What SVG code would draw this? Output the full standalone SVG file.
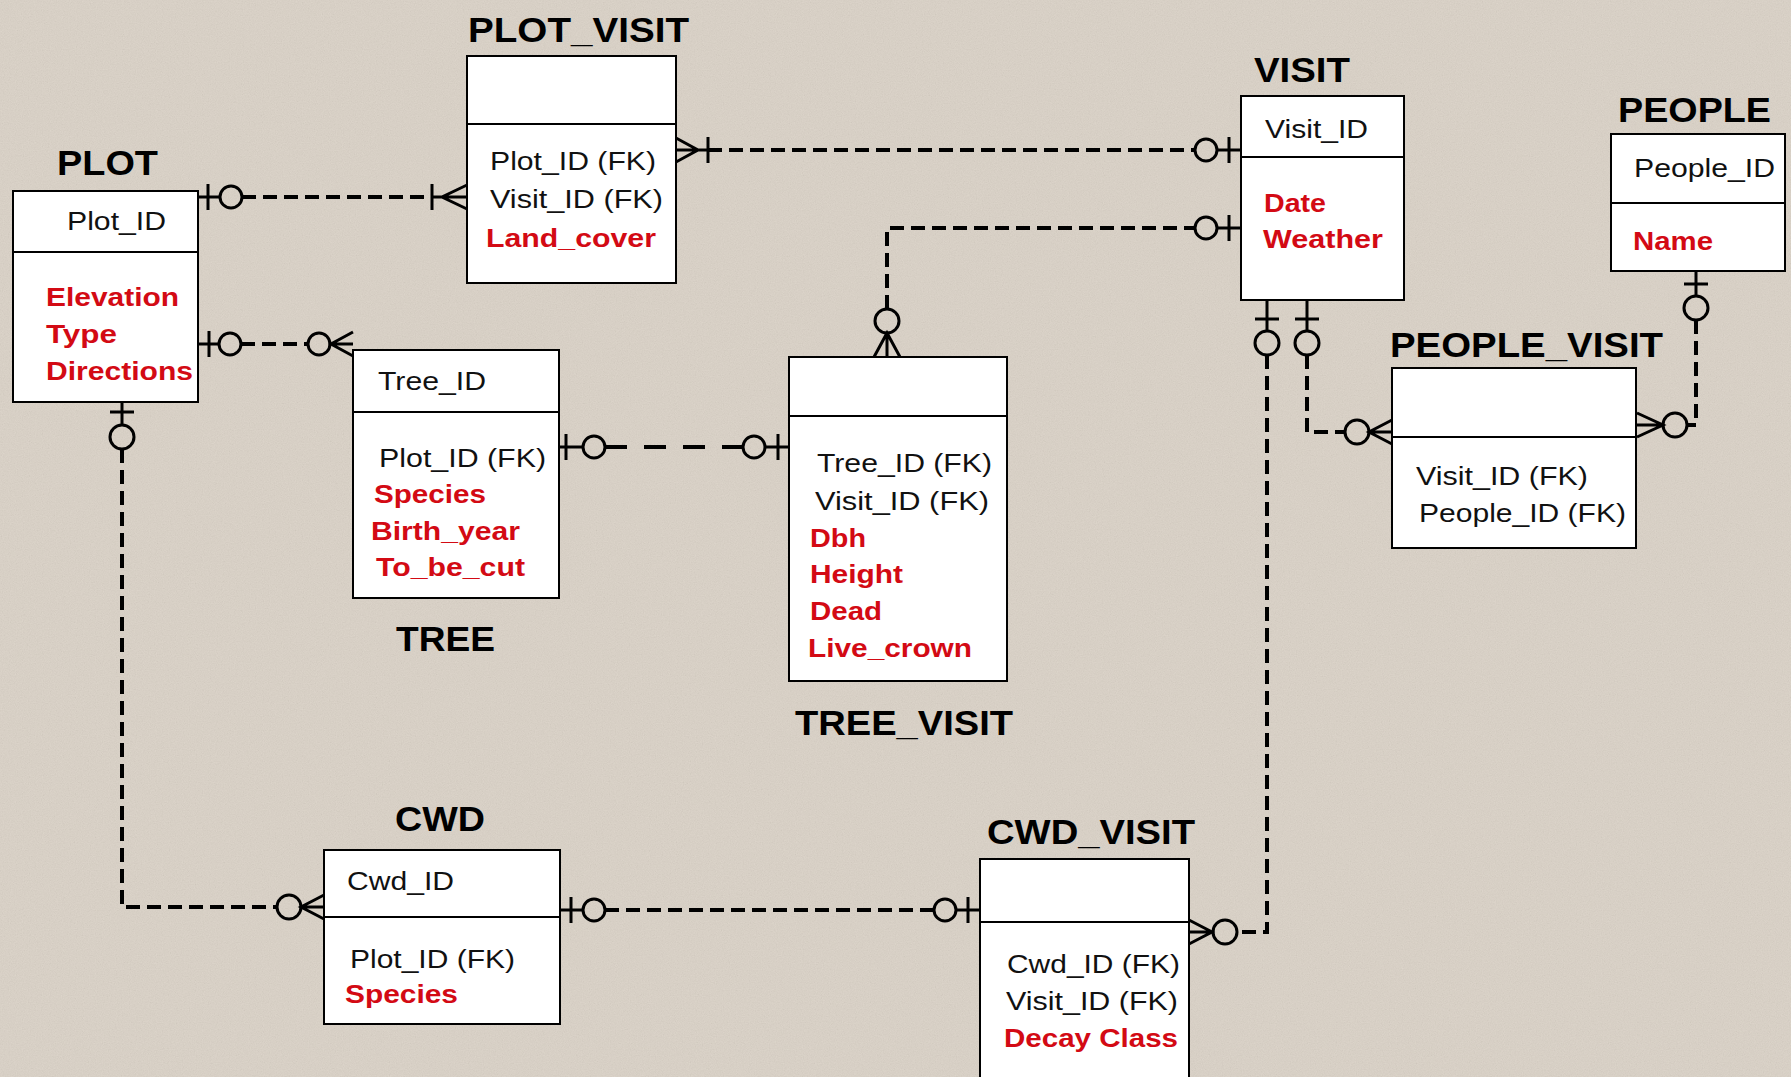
<svg xmlns="http://www.w3.org/2000/svg" width="1791" height="1077" viewBox="0 0 1791 1077">
<defs>
<style>
.box{fill:#fff;stroke:#000;stroke-width:2}
.div{stroke:#000;stroke-width:2}
.title{font-family:"Liberation Sans",Arial,sans-serif;font-weight:bold;font-size:35px;fill:#000}
.attr{font-family:"Liberation Sans",Arial,sans-serif;font-size:26px;fill:#111}
.red{font-family:"Liberation Sans",Arial,sans-serif;font-weight:bold;font-size:26px;fill:#d30a14}
.dash{fill:none;stroke:#000;stroke-width:4;stroke-dasharray:14 7}
.ldash{fill:none;stroke:#000;stroke-width:4;stroke-dasharray:22 17}
.sym{fill:none;stroke:#000;stroke-width:3}
</style>
<filter id="grain" x="0" y="0" width="100%" height="100%">
<feTurbulence type="fractalNoise" baseFrequency="0.85" numOctaves="3" seed="7" result="n"/>
<feColorMatrix in="n" type="matrix" values="0.33 0.33 0.33 0 0 0.33 0.33 0.33 0 0 0.33 0.33 0.33 0 0 0 0 0 0 0.14"/>
</filter>
</defs>
<rect x="0" y="0" width="1791" height="1077" fill="#dcd3c7"/>
<rect x="0" y="0" width="1791" height="1077" filter="url(#grain)"/>

<g id="connectors">
<!-- PLOT - PLOT_VISIT -->
<path class="sym" d="M198 197H220M208 184V210"/>
<circle class="sym" cx="231" cy="197" r="11"/>
<path class="dash" d="M242 197H432"/>
<path class="sym" d="M432 197H467M432 184V210M467 185L442 197L467 209"/>
<!-- PLOT_VISIT - VISIT -->
<path class="sym" d="M676 138L698 150L676 162M676 150H708M708 137V163"/>
<path class="dash" d="M708 150H1195"/>
<circle class="sym" cx="1206" cy="150" r="11"/>
<path class="sym" d="M1217 150H1241M1229 137V163"/>
<!-- PLOT - TREE -->
<path class="sym" d="M198 344H219M209 331V357"/>
<circle class="sym" cx="230" cy="344" r="11"/>
<path class="dash" d="M241 344H308"/>
<circle class="sym" cx="319" cy="344" r="11"/>
<path class="sym" d="M330 344H353M353 332L331 344L353 356"/>
<!-- TREE - TREE_VISIT -->
<path class="sym" d="M559 447H583M566 434V460"/>
<circle class="sym" cx="594" cy="447" r="11"/>
<path class="ldash" d="M605 447H743"/>
<circle class="sym" cx="754" cy="447" r="11"/>
<path class="sym" d="M765 447H789M778 434V460"/>
<!-- TREE_VISIT - VISIT -->
<path class="sym" d="M874 357L887 333L900 357M887 357V333"/>
<circle class="sym" cx="887" cy="321" r="12"/>
<path class="dash" d="M887 309V228H1195"/>
<circle class="sym" cx="1206" cy="228" r="11"/>
<path class="sym" d="M1217 228H1241M1229 215V241"/>
<!-- VISIT - CWD_VISIT -->
<path class="sym" d="M1267 300V331M1255 319H1279"/>
<circle class="sym" cx="1267" cy="343" r="12"/>
<path class="dash" d="M1267 355V932H1237"/>
<circle class="sym" cx="1225" cy="932" r="12"/>
<path class="sym" d="M1213 932H1189M1189 920L1212 932L1189 944"/>
<!-- VISIT - PEOPLE_VISIT -->
<path class="sym" d="M1307 300V331M1295 319H1319"/>
<circle class="sym" cx="1307" cy="343" r="12"/>
<path class="dash" d="M1307 355V432H1345"/>
<circle class="sym" cx="1357" cy="432" r="12"/>
<path class="sym" d="M1369 432H1392M1392 420L1369 432L1392 444"/>
<!-- PEOPLE - PEOPLE_VISIT -->
<path class="sym" d="M1696 271V296M1684 284H1708"/>
<circle class="sym" cx="1696" cy="308" r="12"/>
<path class="dash" d="M1696 320V425H1687"/>
<circle class="sym" cx="1675" cy="425" r="12"/>
<path class="sym" d="M1663 425H1637M1637 413L1663 425L1637 437"/>
<!-- PLOT - CWD -->
<path class="sym" d="M122 402V425M110 412H134"/>
<circle class="sym" cx="122" cy="437" r="12"/>
<path class="dash" d="M122 449V907H277"/>
<circle class="sym" cx="289" cy="907" r="12"/>
<path class="sym" d="M301 907H324M324 895L301 907L324 919"/>
<!-- CWD - CWD_VISIT -->
<path class="sym" d="M560 910H583M571 897V923"/>
<circle class="sym" cx="594" cy="910" r="11"/>
<path class="dash" d="M605 910H934"/>
<circle class="sym" cx="945" cy="910" r="11"/>
<path class="sym" d="M956 910H980M968 897V923"/>
</g>

<g id="plot">
<text class="title" x="57" y="175" textLength="101" lengthAdjust="spacingAndGlyphs">PLOT</text>
<rect class="box" x="13" y="191" width="185" height="211"/>
<line class="div" x1="13" y1="252" x2="198" y2="252"/>
<text class="attr" x="67" y="230" textLength="99" lengthAdjust="spacingAndGlyphs">Plot_ID</text>
<text class="red" x="46" y="306" textLength="133" lengthAdjust="spacingAndGlyphs">Elevation</text>
<text class="red" x="46" y="343" textLength="71" lengthAdjust="spacingAndGlyphs">Type</text>
<text class="red" x="46" y="380" textLength="147" lengthAdjust="spacingAndGlyphs">Directions</text>
</g>

<g id="plot_visit">
<text class="title" x="468" y="42" textLength="221" lengthAdjust="spacingAndGlyphs">PLOT_VISIT</text>
<rect class="box" x="467" y="56" width="209" height="227"/>
<line class="div" x1="467" y1="124" x2="676" y2="124"/>
<text class="attr" x="490" y="170" textLength="166" lengthAdjust="spacingAndGlyphs">Plot_ID (FK)</text>
<text class="attr" x="490" y="208" textLength="173" lengthAdjust="spacingAndGlyphs">Visit_ID (FK)</text>
<text class="red" x="486" y="247" textLength="170" lengthAdjust="spacingAndGlyphs">Land_cover</text>
</g>

<g id="visit">
<text class="title" x="1254" y="82" textLength="96" lengthAdjust="spacingAndGlyphs">VISIT</text>
<rect class="box" x="1241" y="96" width="163" height="204"/>
<line class="div" x1="1241" y1="157" x2="1404" y2="157"/>
<text class="attr" x="1265" y="138" textLength="103" lengthAdjust="spacingAndGlyphs">Visit_ID</text>
<text class="red" x="1264" y="212" textLength="62" lengthAdjust="spacingAndGlyphs">Date</text>
<text class="red" x="1263" y="248" textLength="120" lengthAdjust="spacingAndGlyphs">Weather</text>
</g>

<g id="people">
<text class="title" x="1618" y="122" textLength="153" lengthAdjust="spacingAndGlyphs">PEOPLE</text>
<rect class="box" x="1611" y="134" width="174" height="137"/>
<line class="div" x1="1611" y1="203" x2="1785" y2="203"/>
<text class="attr" x="1634" y="177" textLength="141" lengthAdjust="spacingAndGlyphs">People_ID</text>
<text class="red" x="1633" y="250" textLength="80" lengthAdjust="spacingAndGlyphs">Name</text>
</g>

<g id="people_visit">
<text class="title" x="1390" y="357" textLength="273" lengthAdjust="spacingAndGlyphs">PEOPLE_VISIT</text>
<rect class="box" x="1392" y="368" width="244" height="180"/>
<line class="div" x1="1392" y1="437" x2="1636" y2="437"/>
<text class="attr" x="1416" y="485" textLength="172" lengthAdjust="spacingAndGlyphs">Visit_ID (FK)</text>
<text class="attr" x="1419" y="522" textLength="207" lengthAdjust="spacingAndGlyphs">People_ID (FK)</text>
</g>

<g id="tree">
<rect class="box" x="353" y="350" width="206" height="248"/>
<line class="div" x1="353" y1="412" x2="559" y2="412"/>
<text class="attr" x="378" y="390" textLength="108" lengthAdjust="spacingAndGlyphs">Tree_ID</text>
<text class="attr" x="379" y="467" textLength="167" lengthAdjust="spacingAndGlyphs">Plot_ID (FK)</text>
<text class="red" x="374" y="503" textLength="112" lengthAdjust="spacingAndGlyphs">Species</text>
<text class="red" x="371" y="540" textLength="149" lengthAdjust="spacingAndGlyphs">Birth_year</text>
<text class="red" x="376" y="576" textLength="149" lengthAdjust="spacingAndGlyphs">To_be_cut</text>
<text class="title" x="396" y="651" textLength="99" lengthAdjust="spacingAndGlyphs">TREE</text>
</g>

<g id="tree_visit">
<rect class="box" x="789" y="357" width="218" height="324"/>
<line class="div" x1="789" y1="416" x2="1007" y2="416"/>
<text class="attr" x="817" y="472" textLength="175" lengthAdjust="spacingAndGlyphs">Tree_ID (FK)</text>
<text class="attr" x="815" y="510" textLength="174" lengthAdjust="spacingAndGlyphs">Visit_ID (FK)</text>
<text class="red" x="810" y="547" textLength="56" lengthAdjust="spacingAndGlyphs">Dbh</text>
<text class="red" x="810" y="583" textLength="93" lengthAdjust="spacingAndGlyphs">Height</text>
<text class="red" x="810" y="620" textLength="72" lengthAdjust="spacingAndGlyphs">Dead</text>
<text class="red" x="808" y="657" textLength="164" lengthAdjust="spacingAndGlyphs">Live_crown</text>
<text class="title" x="795" y="735" textLength="218" lengthAdjust="spacingAndGlyphs">TREE_VISIT</text>
</g>

<g id="cwd">
<text class="title" x="395" y="831" textLength="90" lengthAdjust="spacingAndGlyphs">CWD</text>
<rect class="box" x="324" y="850" width="236" height="174"/>
<line class="div" x1="324" y1="917" x2="560" y2="917"/>
<text class="attr" x="347" y="890" textLength="107" lengthAdjust="spacingAndGlyphs">Cwd_ID</text>
<text class="attr" x="350" y="968" textLength="165" lengthAdjust="spacingAndGlyphs">Plot_ID (FK)</text>
<text class="red" x="345" y="1003" textLength="113" lengthAdjust="spacingAndGlyphs">Species</text>
</g>

<g id="cwd_visit">
<text class="title" x="987" y="844" textLength="208" lengthAdjust="spacingAndGlyphs">CWD_VISIT</text>
<rect class="box" x="980" y="859" width="209" height="240"/>
<line class="div" x1="980" y1="922" x2="1189" y2="922"/>
<text class="attr" x="1007" y="973" textLength="173" lengthAdjust="spacingAndGlyphs">Cwd_ID (FK)</text>
<text class="attr" x="1006" y="1010" textLength="172" lengthAdjust="spacingAndGlyphs">Visit_ID (FK)</text>
<text class="red" x="1004" y="1047" textLength="174" lengthAdjust="spacingAndGlyphs">Decay Class</text>
</g>
</svg>
